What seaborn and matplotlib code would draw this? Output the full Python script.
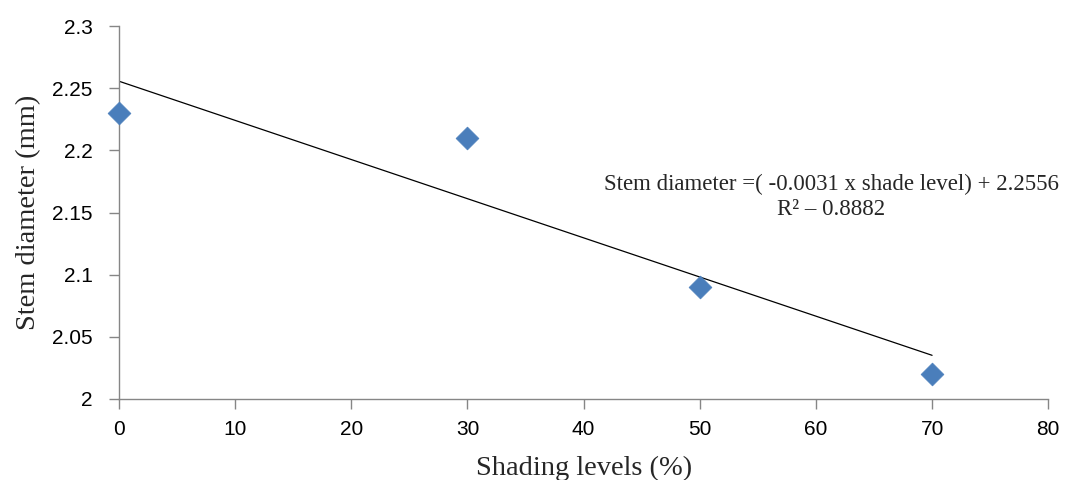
import matplotlib
matplotlib.use("Agg")
import matplotlib.pyplot as plt
import seaborn as sns
import numpy as np
import pandas as pd

shading = [0, 30, 50, 70]
stem_diameter = [2.23, 2.21, 2.09, 2.02]
x_ticks = [0, 10, 20, 30, 40, 50, 60, 70, 80]
y_ticks = [2.0, 2.05, 2.1, 2.15, 2.2, 2.25, 2.3]
y_tick_labels = ["2", "2.05", "2.1", "2.15", "2.2", "2.25", "2.3"]
equation_text = "Stem diameter =( -0.0031 x shade level) + 2.2556\nR² – 0.8882"

sns.set_style("white")
plt.rcParams['font.family'] = ['Liberation Sans', 'DejaVu Sans']

fig = plt.figure(figsize=(10.83, 4.8), dpi=100)
ax = fig.add_axes([0.1099, 0.16875, 0.858, 0.777])

df = pd.DataFrame({"shade": shading, "diam": stem_diameter})
slope, intercept = np.polyfit(shading, stem_diameter, 1)
trend_x = np.array([shading[0], shading[-1]])
trend = pd.DataFrame({"shade": trend_x, "diam": slope * trend_x + intercept})
sns.lineplot(data=trend, x="shade", y="diam", ax=ax, color="black", linewidth=0.9)
sns.scatterplot(data=df, x="shade", y="diam", ax=ax, marker="D", s=135,
                color="#4A7EBB", edgecolor="#4A7EBB", linewidth=0.5, zorder=5, clip_on=False)

ax.set_xlim(0, 80)
ax.set_ylim(2.0, 2.3)
ax.set_xticks(x_ticks)
ax.set_yticks(y_ticks)
ax.set_yticklabels(y_tick_labels)
ax.tick_params(axis='both', which='both', direction='out', length=7, width=1,
               color='#868686', labelsize=15, labelcolor='black', left=True, bottom=True)
ax.tick_params(axis='x', pad=8)
ax.tick_params(axis='y', pad=12)
for s in ['top', 'right']:
    ax.spines[s].set_visible(False)
for s in ['left', 'bottom']:
    ax.spines[s].set_color('#868686')
    ax.spines[s].set_linewidth(1)

ax.set_xlabel("Shading levels (%)", family=['Liberation Serif'], fontsize=20.5, labelpad=12)
ax.set_ylabel("Stem diameter (mm)", family=['Liberation Serif'], fontsize=20.5, labelpad=8)

ax.text(61.3, 2.1625, equation_text,
        family=['Liberation Serif'], fontsize=16.5, ha='center', va='center', linespacing=1.2)

fig.savefig("out.png", dpi=100)
